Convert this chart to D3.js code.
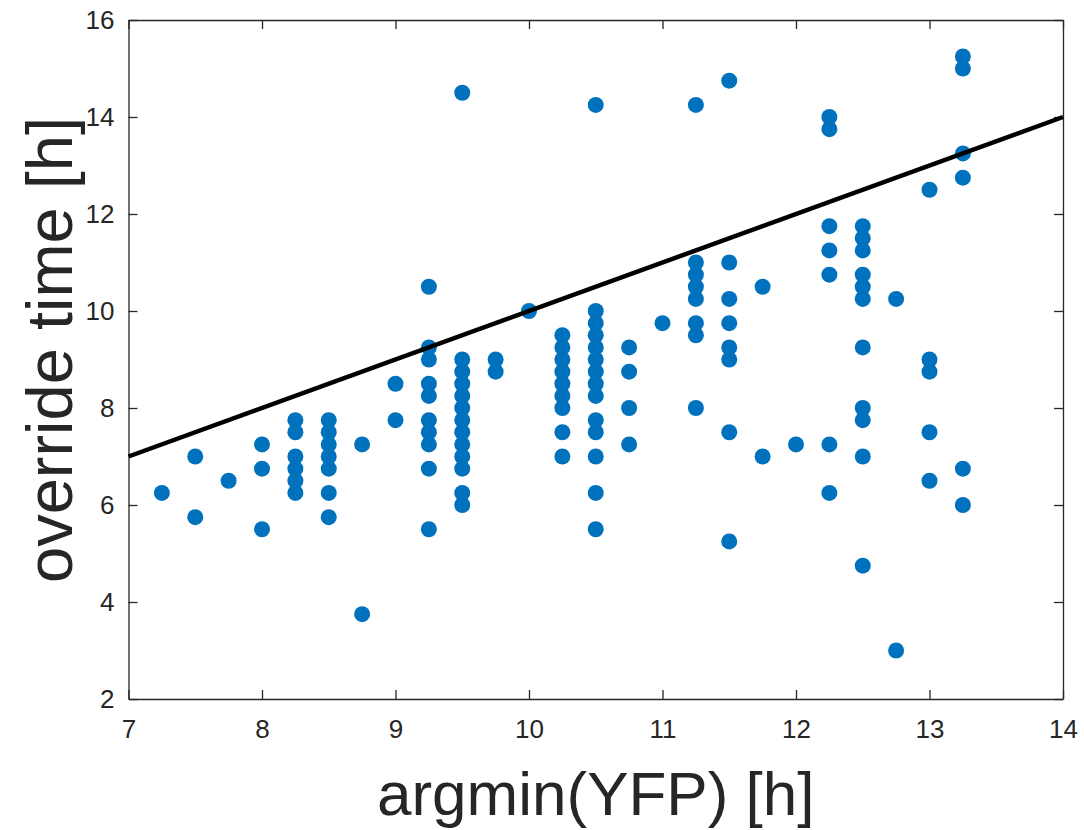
<!DOCTYPE html>
<html>
<head>
<meta charset="utf-8">
<script src="https://cdn.jsdelivr.net/npm/d3@7"></script>
<style>
    body { margin: 0; background: #fff; }
    text { font-family: "Liberation Sans", Arial, Helvetica, sans-serif; fill: #262626; }
</style>
</head>
<body>
<div id="chart"></div>
<script>

// argmin(YFP) [h] for each cell
let argminYFP = [
    7.25,
    7.5, 7.5,
    7.75,
    8, 8, 8,
    8.25, 8.25, 8.25, 8.25, 8.25, 8.25,
    8.5, 8.5, 8.5, 8.5, 8.5, 8.5, 8.5,
    8.75, 8.75,
    9, 9,
    9.25, 9.25, 9.25, 9.25, 9.25, 9.25, 9.25, 9.25, 9.25, 9.25,
    9.5, 9.5, 9.5, 9.5, 9.5, 9.5, 9.5, 9.5, 9.5, 9.5, 9.5, 9.5, 9.5,
    9.75, 9.75,
    10,
    10.25, 10.25, 10.25, 10.25, 10.25, 10.25, 10.25, 10.25, 10.25,
    10.5, 10.5, 10.5, 10.5, 10.5, 10.5, 10.5, 10.5, 10.5, 10.5, 10.5, 10.5, 10.5, 10.5,
    10.75, 10.75, 10.75, 10.75,
    11,
    11.25, 11.25, 11.25, 11.25, 11.25, 11.25, 11.25, 11.25,
    11.5, 11.5, 11.5, 11.5, 11.5, 11.5, 11.5, 11.5,
    11.75, 11.75,
    12,
    12.25, 12.25, 12.25, 12.25, 12.25, 12.25, 12.25,
    12.5, 12.5, 12.5, 12.5, 12.5, 12.5, 12.5, 12.5, 12.5, 12.5, 12.5,
    12.75, 12.75,
    13, 13, 13, 13, 13,
    13.25, 13.25, 13.25, 13.25, 13.25, 13.25
];

// override time [h], same order as above
let overrideTime = [
    6.25,
    7, 5.75,
    6.5,
    7.25, 6.75, 5.5,
    7.75, 7.5, 7, 6.75, 6.5, 6.25,
    7.75, 7.5, 7.25, 7, 6.75, 6.25, 5.75,
    7.25, 3.75,
    8.5, 7.75,
    10.5, 9.25, 9, 8.5, 8.25, 7.75, 7.5, 7.25, 6.75, 5.5,
    14.5, 9, 8.75, 8.5, 8.25, 8, 7.75, 7.5, 7.25, 7, 6.75, 6.25, 6,
    9, 8.75,
    10,
    9.5, 9.25, 9, 8.75, 8.5, 8.25, 8, 7.5, 7,
    14.25, 10, 9.75, 9.5, 9.25, 9, 8.75, 8.5, 8.25, 7.75, 7.5, 7, 6.25, 5.5,
    9.25, 8.75, 8, 7.25,
    9.75,
    14.25, 11, 10.75, 10.5, 10.25, 9.75, 9.5, 8,
    14.75, 11, 10.25, 9.75, 9.25, 9, 7.5, 5.25,
    10.5, 7,
    7.25,
    14, 13.75, 11.75, 11.25, 10.75, 7.25, 6.25,
    11.75, 11.5, 11.25, 10.75, 10.5, 10.25, 9.25, 8, 7.75, 7, 4.75,
    10.25, 3,
    12.5, 9, 8.75, 7.5, 6.5,
    15.25, 15, 13.25, 12.75, 6.75, 6
];

// reference line
let lineX = [7, 14];
let lineY = [7, 14];

let xTicks = [7, 8, 9, 10, 11, 12, 13, 14];
let yTicks = [2, 4, 6, 8, 10, 12, 14, 16];

class OverridePlot {

    constructor(parentElement) {
        this.parentElement = parentElement;
        this.displayData = argminYFP.map((d, i) => ({x: d, y: overrideTime[i]}));
        this.initVis();
    }

    initVis() {
        let vis = this;
        vis.margin = {top: 20, right: 21, bottom: 131, left: 128.5};
        vis.width = 1084 - vis.margin.left - vis.margin.right;
        vis.height = 830 - vis.margin.top - vis.margin.bottom;

        vis.svg = d3.select("#" + vis.parentElement).append("svg")
            .attr("width", 1084)
            .attr("height", 830)
            .append("g")
            .attr("transform", `translate(${vis.margin.left}, ${vis.margin.top})`);

        vis.x = d3.scaleLinear().domain([7, 14]).range([0, vis.width]);
        vis.y = d3.scaleLinear().domain([2, 16]).range([vis.height, 0]);

        // ticks point inward, on all four sides (box on)
        let tickLen = 9;
        vis.svg.append("g")
            .attr("class", "axis")
            .attr("transform", `translate(0, ${vis.height})`)
            .call(d3.axisBottom(vis.x).tickValues(xTicks).tickFormat(d3.format("d"))
                .tickSizeInner(-tickLen).tickSizeOuter(0).tickPadding(21));
        vis.svg.append("g")
            .attr("class", "axis")
            .call(d3.axisLeft(vis.y).tickValues(yTicks).tickFormat(d3.format("d"))
                .tickSizeInner(-tickLen).tickSizeOuter(0).tickPadding(14));
        vis.svg.append("g")
            .attr("class", "axis")
            .call(d3.axisTop(vis.x).tickValues(xTicks).tickSizeInner(-tickLen).tickSizeOuter(0).tickFormat(""));
        vis.svg.append("g")
            .attr("class", "axis")
            .attr("transform", `translate(${vis.width}, 0)`)
            .call(d3.axisRight(vis.y).tickValues(yTicks).tickSizeInner(-tickLen).tickSizeOuter(0).tickFormat(""));

        vis.svg.selectAll(".axis .domain")
            .attr("stroke", "#262626")
            .attr("stroke-width", 1.3);
        vis.svg.selectAll(".axis line")
            .attr("stroke", "#262626")
            .attr("stroke-width", 1.3);
        vis.svg.selectAll(".axis text")
            .attr("font-size", 26)
            .attr("fill", "#262626");

        // axis labels
        vis.svg.append("text")
            .attr("x", vis.width / 2)
            .attr("y", vis.height + 116)
            .attr("text-anchor", "middle")
            .attr("font-size", 62)
            .text("argmin(YFP) [h]");

        vis.svg.append("text")
            .attr("transform", `translate(${-56.5}, ${330}) rotate(-90)`)
            .attr("text-anchor", "middle")
            .attr("font-size", 65)
            .text("override time [h]");

        vis.updateVis();
    }

    updateVis() {
        let vis = this;

        vis.svg.selectAll(".dot")
            .data(vis.displayData)
            .enter().append("circle")
            .attr("class", "dot")
            .attr("cx", d => vis.x(d.x))
            .attr("cy", d => vis.y(d.y))
            .attr("r", 8)
            .attr("fill", "#0072BD");

        let line = d3.line()
            .x(d => vis.x(d[0]))
            .y(d => vis.y(d[1]));

        vis.svg.append("path")
            .datum(lineX.map((d, i) => [d, lineY[i]]))
            .attr("fill", "none")
            .attr("stroke", "#000")
            .attr("stroke-width", 4.5)
            .attr("d", line);
    }
}

new OverridePlot("chart");
</script>
</body>
</html>
